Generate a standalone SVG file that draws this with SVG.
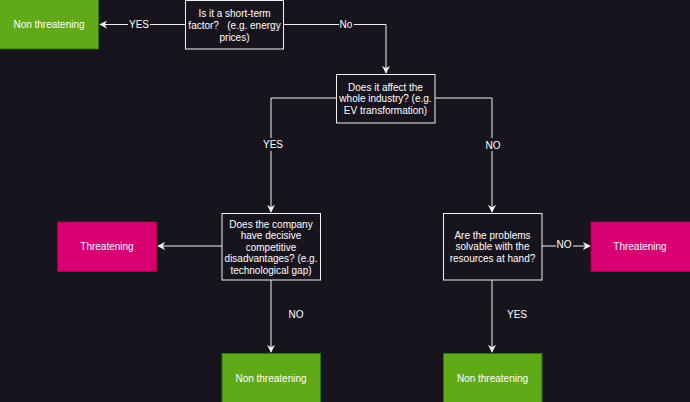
<svg xmlns="http://www.w3.org/2000/svg" width="690" height="402" viewBox="0 0 690 402">
<defs>
<marker id="arr" viewBox="0 0 10 10" refX="9" refY="5" markerWidth="8" markerHeight="8" markerUnits="userSpaceOnUse" orient="auto">
<path d="M0,0 L10,5 L0,10 L3,5 Z" fill="#f0f0f0"/>
</marker>
<style>
text{font-family:"Liberation Sans",Arial,sans-serif;font-size:10px;fill:#ffffff;text-anchor:middle;dominant-baseline:central;white-space:pre}
.q{fill:#18141d;stroke:#f0f0f0;stroke-width:1}
.g{fill:#60a917;stroke:#2d7600;stroke-width:1}
.p{fill:#d80073;stroke:#a50040;stroke-width:1}
.e{fill:none;stroke:#f0f0f0;stroke-width:1}
.lb{fill:#18141d}
</style>
</defs>
<rect width="690" height="402" fill="#18141d"/>
<g id="connectors">
<path class="e" d="M185,24.5 H100" marker-end="url(#arr)"/>
<rect class="lb" x="128" y="18" width="22" height="13"/>
<text x="139" y="24.5">YES</text>
<path class="e" d="M283,24.5 H386 V73" marker-end="url(#arr)"/>
<rect class="lb" x="339" y="18" width="15" height="13"/>
<text x="346" y="24.5">No</text>
<path class="e" d="M336,98 H271 V212" marker-end="url(#arr)"/>
<rect class="lb" x="261" y="138" width="22" height="13"/>
<text x="273" y="144.5">YES</text>
<path class="e" d="M435,98 H492 V212" marker-end="url(#arr)"/>
<rect class="lb" x="484" y="138" width="18" height="13"/>
<text x="493" y="145">NO</text>
<path class="e" d="M222,246 H158" marker-end="url(#arr)"/>
<path class="e" d="M542,246 H590" marker-end="url(#arr)"/>
<rect class="lb" x="556" y="239" width="17" height="13"/>
<text x="564" y="244">NO</text>
<path class="e" d="M271,280 V352" marker-end="url(#arr)"/>
<text x="296" y="314">NO</text>
<path class="e" d="M492,280 V352" marker-end="url(#arr)"/>
<text x="517" y="314">YES</text>
</g>
<g id="n-nonthreat-top">
<rect class="g" x="-1" y="-1" width="99.5" height="50"/>
<text x="49" y="24.5">Non threatening</text>
</g>
<g id="q-shortterm">
<rect class="q" x="185.5" y="0.5" width="98" height="48.5"/>
<text x="234.5" y="13">Is it a short-term</text>
<text x="234.5" y="25" xml:space="preserve">factor?   (e.g. energy</text>
<text x="234.5" y="37">prices)</text>
</g>
<g id="q-industry">
<rect class="q" x="336.5" y="74.5" width="98.5" height="48.5"/>
<text x="385.5" y="87">Does it affect the</text>
<text x="385.5" y="98.5">whole industry? (e.g.</text>
<text x="385.5" y="110">EV transformation)</text>
</g>
<g id="q-disadvantage">
<rect class="q" x="222" y="213.5" width="98.5" height="66.5"/>
<text x="271" y="224">Does the company</text>
<text x="271" y="235.5">have decisive</text>
<text x="271" y="247">competitive</text>
<text x="271" y="258.5">disadvantages? (e.g.</text>
<text x="271" y="270">technological gap)</text>
</g>
<g id="q-solvable">
<rect class="q" x="443.5" y="213.5" width="98.5" height="66.5"/>
<text x="492.5" y="235">Are the problems</text>
<text x="492.5" y="246.5">solvable with the</text>
<text x="492.5" y="258">resources at hand?</text>
</g>
<g id="n-threat-left">
<rect class="p" x="57.5" y="222" width="99" height="49.5"/>
<text x="107" y="246">Threatening</text>
</g>
<g id="n-threat-right">
<rect class="p" x="591" y="222" width="100" height="49.5"/>
<text x="640" y="246">Threatening</text>
</g>
<g id="n-nonthreat-left">
<rect class="g" x="222" y="353.5" width="98.5" height="50"/>
<text x="271" y="378">Non threatening</text>
</g>
<g id="n-nonthreat-right">
<rect class="g" x="443.5" y="353.5" width="98.5" height="50"/>
<text x="492.5" y="378">Non threatening</text>
</g>
</svg>
